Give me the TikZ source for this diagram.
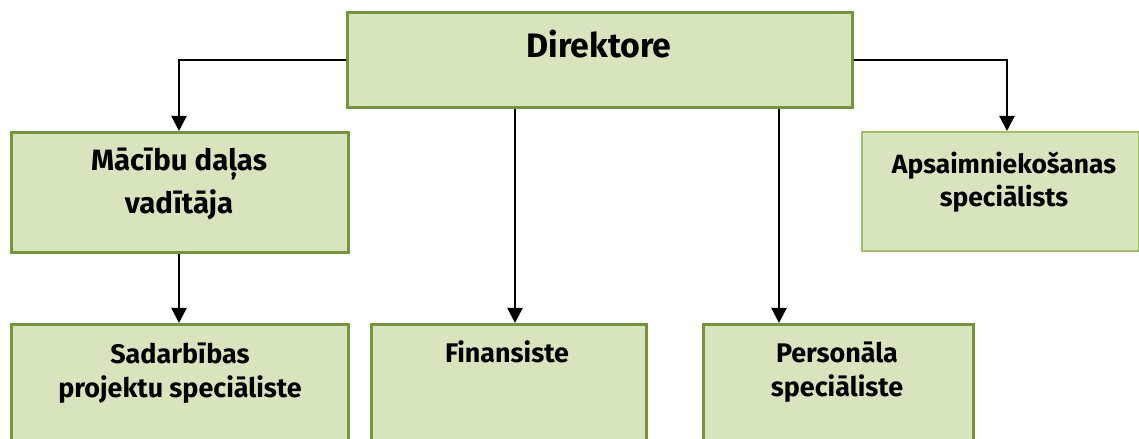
\documentclass[tikz,border=0pt]{standalone}
\usepackage{fontspec}
\setmainfont{Fira Sans}
\usetikzlibrary{arrows.meta,calc}
\definecolor{boxfill}{HTML}{D7E4BD}
\definecolor{boxline}{HTML}{77933C}
\definecolor{boxlight}{HTML}{A3BD6E}
\begin{document}
\begin{tikzpicture}[x=1bp,y=-1bp,
  box/.style={draw=boxline, line width=3bp, fill=boxfill, inner sep=0, anchor=north west},
  lightbox/.style={box, draw=boxlight, line width=1.6bp},
  lbl/.style={font=\bfseries\fontsize{27}{35}\selectfont, align=center, inner sep=0, anchor=base},
  apslbl/.style={lbl, font=\bfseries\fontsize{26.5}{34}\selectfont},
  biglbl/.style={lbl, font=\bfseries\fontsize{34}{40}\selectfont},
  maclbl/.style={lbl, font=\bfseries\fontsize{29.5}{44}\selectfont},
  conn/.style={line width=2.2bp, -{Triangle[width=15bp,length=15bp]}},
]
\useasboundingbox (0,0) rectangle (1139,439);
\clip (0,0) rectangle (1139,439);
% boxes
\node[box, minimum width=505bp, minimum height=95bp] (dir) at (346,11) {};
\node[box, minimum width=337bp, minimum height=120bp] (mac) at (10,131) {};
\node[lightbox, minimum width=277bp, minimum height=119bp] (aps) at (861,131) {};
\node[box, minimum width=337bp, minimum height=140bp] (sad) at (10,323) {};
\node[box, minimum width=275bp, minimum height=140bp] (fin) at (370,323) {};
\node[box, minimum width=270bp, minimum height=140bp] (per) at (702,323) {};
% labels (anchor=base sits on the last line)
\node[biglbl] (dirT) at (599,58) {Direktore};
\node[maclbl] (macT) at (179,214) {Mācību daļas\\vadītāja};
\node[apslbl] (apsT) at (1004,207) {Apsaimniekošanas\\speciālists};
\node[lbl] (sadT) at (180,398) {Sadarbības\\projektu speciāliste};
\node[lbl] (finT) at (507,363) {Finansiste};
\node[lbl] (perT) at (837,397) {Personāla\\speciāliste};
% connector columns
\coordinate (cm) at (179,0);
\coordinate (cf) at (515,0);
\coordinate (cp) at (779,0);
\coordinate (ca) at (1007,0);
% connectors
\draw[conn] (dir.west) -| (mac.north -| cm);
\draw[conn] (dir.east) -| (aps.north -| ca);
\draw[conn] (mac.south -| cm) -- (sad.north -| cm);
\draw[conn] (dir.south -| cf) -- (fin.north -| cf);
\draw[conn] (dir.south -| cp) -- (per.north -| cp);
\end{tikzpicture}
\end{document}
